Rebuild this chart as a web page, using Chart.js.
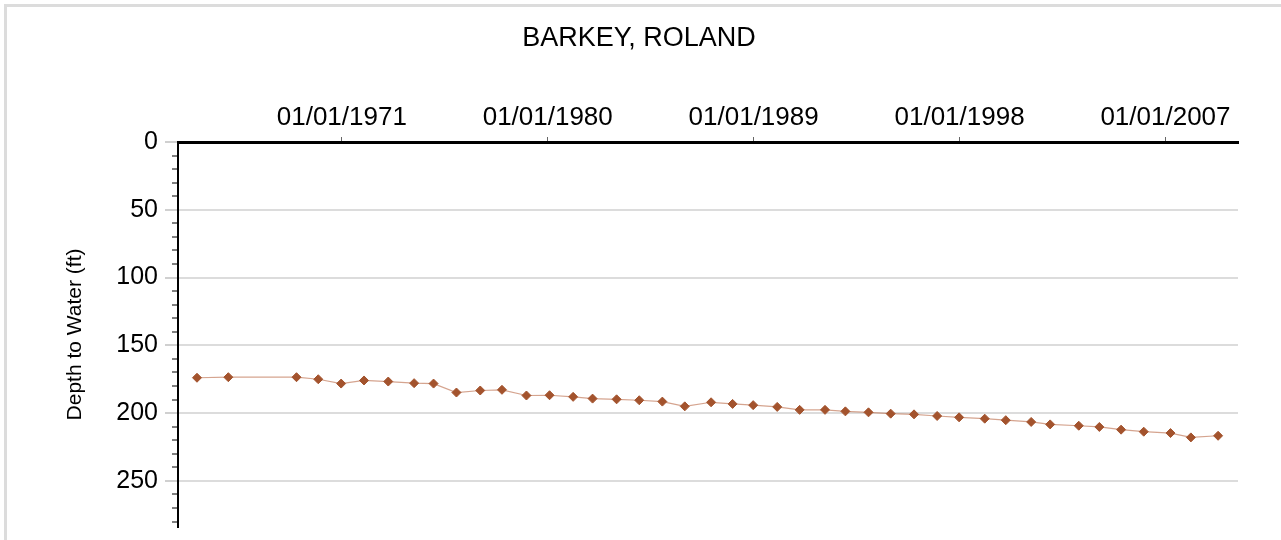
<!DOCTYPE html>
<html>
<head>
<meta charset="utf-8">
<script src="https://cdn.jsdelivr.net/npm/chart.js@4.4.1/dist/chart.umd.min.js"></script>
<style>
  body { margin: 0; background: #fff; }
  #wrap { position: relative; width: 1281px; height: 540px; }
  #frame { position: absolute; left: 4px; top: 4px; right: 0; bottom: 0;
           border-top: 3px solid #dcdcdc; border-left: 3px solid #dcdcdc; pointer-events: none; }
  canvas { position: absolute; left: 0; top: 0; }
</style>
</head>
<body>
<div id="wrap">
  <canvas id="depthChart" width="1281" height="540"></canvas>
  <div id="frame"></div>
</div>
<script>
// measurement dates as decimal years, depth to water in feet
const years = [1964.67, 1966.04, 1969.02, 1969.97, 1970.97, 1971.97, 1973.03, 1974.16, 1975.01, 1976.01,
  1977.05, 1978.0, 1979.07, 1980.08, 1981.11, 1981.96, 1983.01, 1984.0, 1985.01, 1985.99,
  1987.14, 1988.08, 1988.98, 1990.03, 1991.01, 1992.12, 1993.01, 1994.02, 1994.99, 1996.01,
  1997.02, 1997.98, 1999.10, 2000.02, 2001.13, 2001.96, 2003.21, 2004.11, 2005.06, 2006.05,
  2007.22, 2008.11, 2009.30];
const depths = [173.9, 173.5, 173.5, 175.0, 178.2, 175.9, 176.7, 177.9, 178.2, 184.8,
  183.3, 182.8, 187.0, 186.8, 188.0, 189.3, 189.8, 190.5, 191.5, 195.0,
  192.0, 193.2, 194.1, 195.4, 197.6, 197.6, 198.7, 199.4, 200.4, 200.9,
  202.1, 203.1, 204.1, 205.2, 206.5, 208.3, 209.3, 210.2, 212.2, 213.7,
  214.7, 217.9, 216.7];
const xTicks = [1971, 1980, 1989, 1998, 2007];
const xTickLabels = ['01/01/1971', '01/01/1980', '01/01/1989', '01/01/1998', '01/01/2007'];
const xMin = 1963.84, xMax = 2010.17;
const yMin = 0, yMax = 284;

const fontFamily = '"Liberation Sans", Arial, sans-serif';
const ctx = document.getElementById('depthChart').getContext('2d');

const isMajor = v => v % 50 === 0;
const titleSize = 27;

new Chart(ctx, {
  type: 'line',
  data: {
    datasets: [{
      label: 'Depth to Water',
      data: years.map((y, i) => ({ x: y, y: depths[i] })),
      borderColor: 'rgba(195,125,95,0.7)',
      borderWidth: 1.2,
      tension: 0,
      pointStyle: 'rectRot',
      pointRadius: 4.5,
      pointBackgroundColor: '#a3532d',
      pointBorderColor: '#a3532d',
      pointBorderWidth: 1
    }]
  },
  options: {
    responsive: false,
    animation: false,
    devicePixelRatio: 1,
    layout: { padding: { left: 40, right: 43, top: 0, bottom: 13 } },
    plugins: {
      legend: { display: false },
      tooltip: { enabled: false },
      title: {
        display: true,
        text: 'BARKEY, ROLAND',
        color: '#000',
        font: { family: fontFamily, size: titleSize, weight: 'normal' },
        padding: { top: 22, bottom: 10 }
      }
    },
    scales: {
      x: {
        type: 'linear',
        position: 'top',
        min: xMin,
        max: xMax,
        afterBuildTicks: s => { s.ticks = xTicks.map(v => ({ value: v })); },
        afterFit: s => { s.height = 142 - (22 + titleSize * 1.2 + 10); },
        ticks: {
          color: '#000',
          padding: 4,
          maxRotation: 0,
          font: { family: fontFamily, size: 26 },
          callback: v => xTickLabels[xTicks.indexOf(v)]
        },
        grid: { drawOnChartArea: false, tickLength: 5, tickColor: '#666', tickWidth: 1 },
        border: { color: '#000', width: 3 }
      },
      y: {
        type: 'linear',
        reverse: true,
        min: yMin,
        max: yMax,
        afterFit: s => { s.width = 178 - 40; s.paddingTop = 0; s.paddingBottom = 0; },
        ticks: {
          stepSize: 10,
          includeBounds: false,
          autoSkip: false,
          color: '#000',
          padding: 7,
          font: { family: fontFamily, size: 25 },
          callback: v => isMajor(v) ? v : ''
        },
        grid: {
          color: c => (isMajor(c.tick.value) && c.tick.value !== 0) ? '#dcdcdc' : 'rgba(0,0,0,0)',
          lineWidth: 2,
          tickLength: 13,
          tickColor: c => isMajor(c.tick.value) ? '#d0d0d0' : '#000',
          tickWidth: c => isMajor(c.tick.value) ? 2 : 1,
          tickBorderDash: c => isMajor(c.tick.value) ? [] : [0, 7, 6, 100]
        },
        border: { color: '#000', width: 2 },
        title: {
          display: true,
          text: 'Depth to Water (ft)',
          color: '#000',
          font: { family: fontFamily, size: 21 },
          padding: { top: 23, bottom: 0 }
        }
      }
    }
  }
});
</script>
</body>
</html>
